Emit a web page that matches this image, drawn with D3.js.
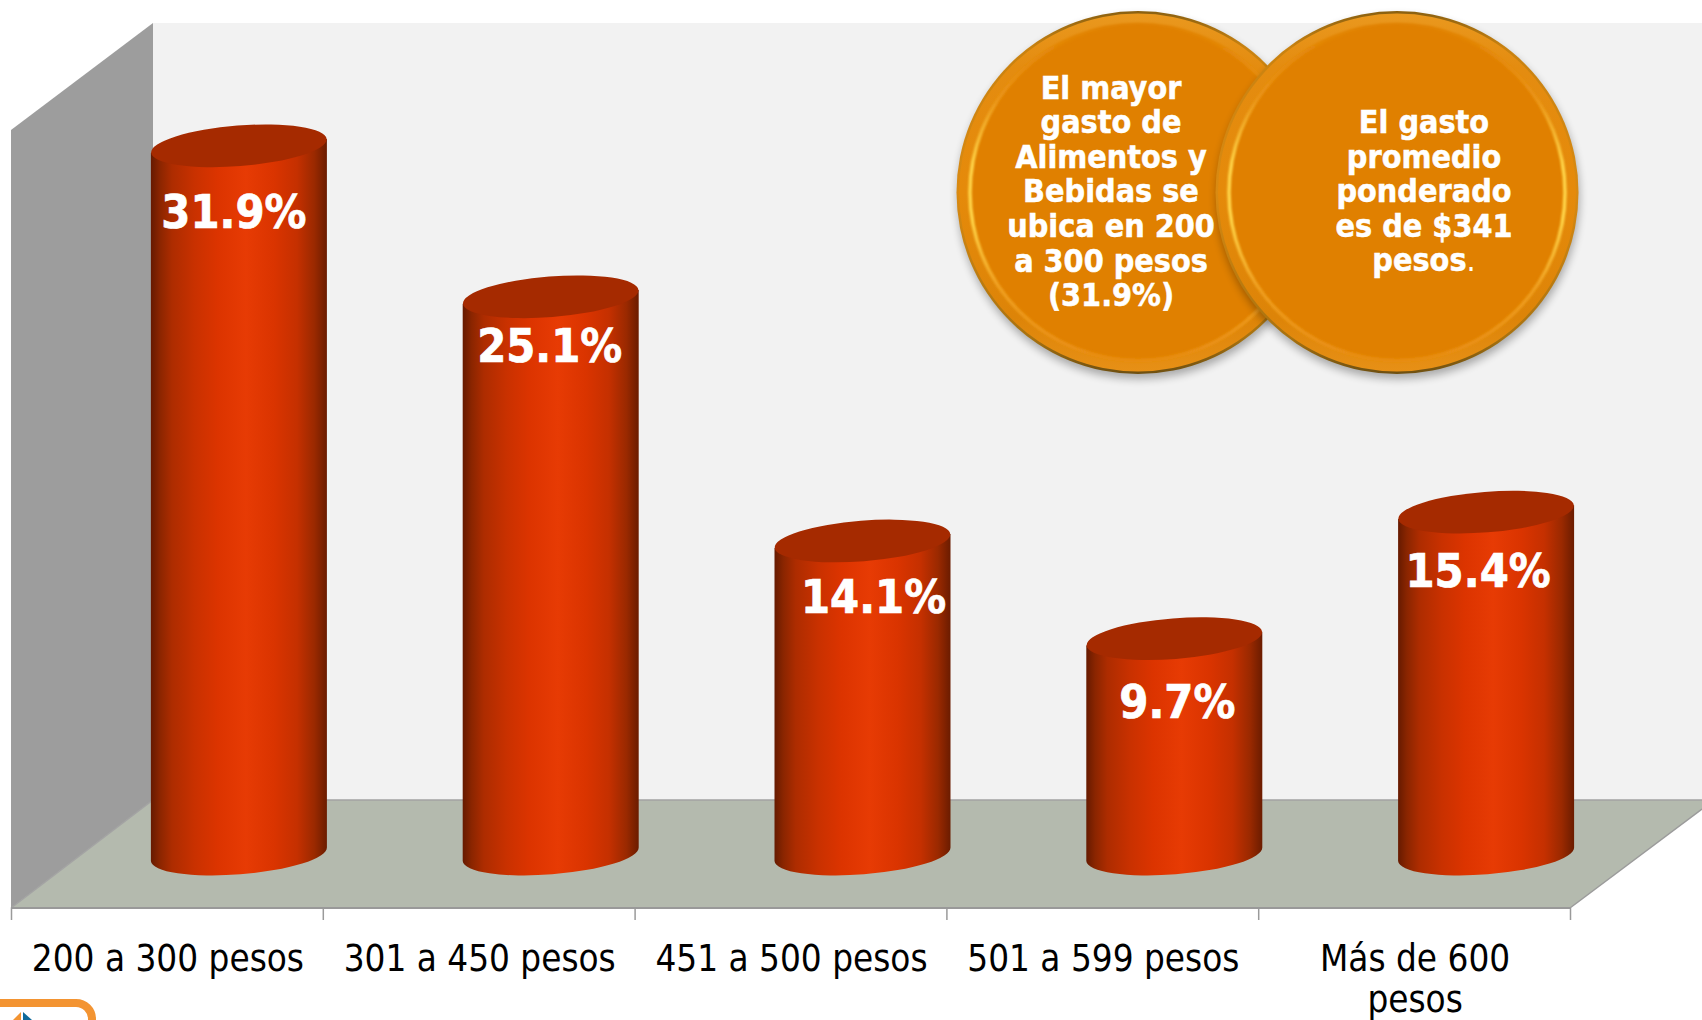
<!DOCTYPE html>
<html><head><meta charset="utf-8">
<script src="https://cdn.jsdelivr.net/npm/d3@7"></script>
<style>
html,body{margin:0;padding:0;background:#fff;overflow:hidden}
svg{display:block}
text{font-family:"DejaVu Sans",sans-serif;font-stretch:condensed}
</style></head><body>
<script>
const categories=["200 a 300 pesos","301 a 450 pesos","451 a 500 pesos","501 a 599 pesos","Más de 600 pesos"];
const categoryLines=[["200 a 300 pesos"],["301 a 450 pesos"],["451 a 500 pesos"],["501 a 599 pesos"],["Más de 600","pesos"]];
const values=[31.9,25.1,14.1,9.7,15.4];
const valueLabels=["31.9%","25.1%","14.1%","9.7%","15.4%"];
const labelDx=[-5,-1,11,3,-8];
const labelDy=[65,48,55,63,58];
const noteLeft=["El mayor","gasto de","Alimentos y","Bebidas se","ubica en 200","a 300 pesos","(31.9%)"];
const noteRight=["El gasto","promedio","ponderado","es de $341","pesos"];

const W=1702,H=1020;
const plot={left:11,right:1570,front:908,back:800,top:23,depthX:142,sideTop:130,farRight:1702,farRightY:809};
const svg=d3.select("body").append("svg").attr("width",W).attr("height",H);
const defs=svg.append("defs");

function grad(id,stops,attrs){
  const g=defs.append("linearGradient").attr("id",id);
  Object.entries(attrs||{}).forEach(([k,v])=>g.attr(k,v));
  stops.forEach(([o,c])=>g.append("stop").attr("offset",o).attr("stop-color",c));
}
grad("cyl",[[0,"#661a00"],[.05,"#8a2500"],[.12,"#ad2c00"],[.25,"#c93100"],[.38,"#dc3400"],[.54,"#e73b04"],[.7,"#da3400"],[.83,"#c53000"],[.93,"#9a2900"],[1,"#6b1c00"]]);
grad("rim",[[0,"#8a6010"],[.1,"#c98210"],[.5,"#d98a12"],[.9,"#a8720f"],[1,"#6e4f10"]],{x1:0,y1:0,x2:0,y2:1});
grad("band",[[0,"#ea981e"],[.15,"#e48c10"],[.5,"#e58a0a"],[.85,"#dd8408"],[1,"#e79016"]],{x1:0,y1:0,x2:0,y2:1});
grad("glow",[[0,"#e08000"],[.22,"#ea9416"],[.42,"#ffd548"],[.58,"#ffd548"],[.78,"#f0a020"],[1,"#e88c10"]],{x1:0,y1:0,x2:0,y2:1});
const sh=defs.append("filter").attr("id","shadow").attr("x","-20%").attr("y","-20%").attr("width","140%").attr("height","140%");
sh.append("feGaussianBlur").attr("stdDeviation",4);
const soft=defs.append("filter").attr("id","soft").attr("x","-10%").attr("y","-10%").attr("width","120%").attr("height","120%");
soft.append("feGaussianBlur").attr("stdDeviation",1.3);

const line=d3.line();
// back wall, side wall, floor
svg.append("rect").attr("x",plot.left+plot.depthX).attr("y",plot.top)
  .attr("width",plot.farRight-plot.left-plot.depthX).attr("height",plot.back-plot.top).attr("fill","#f2f2f2");
svg.append("path").attr("d",line([[plot.left,plot.sideTop],[plot.left+plot.depthX,plot.top],[plot.left+plot.depthX,plot.back],[plot.left,plot.front]])+"Z").attr("fill","#9d9d9d");
svg.append("path").attr("d",line([[plot.left,plot.front],[plot.left+plot.depthX,plot.back],[plot.farRight,plot.back],[plot.farRight,plot.farRightY],[plot.right,plot.front]])+"Z").attr("fill","#b4baae");
svg.append("path").attr("d",line([[plot.left,plot.front],[plot.left+plot.depthX,plot.back],[plot.farRight,plot.back]])).attr("fill","none").attr("stroke","#a3a3a3").attr("stroke-width",1.5);
svg.append("path").attr("d",line([[plot.farRight,plot.farRightY],[plot.right,plot.front]])).attr("fill","none").attr("stroke","#9b9b9b").attr("stroke-width",1.5);

// scales
const x=d3.scaleBand().domain(categories).range([plot.left,plot.right]);
const xEdges=d3.scaleLinear().domain([0,categories.length]).range([plot.left,plot.right]);
const y=d3.scaleLinear().domain([0,35]).range([854,77]);

// category axis (ticks at band edges)
const axisG=svg.append("g").attr("transform",`translate(0,${plot.front})`)
  .call(d3.axisBottom(xEdges).ticks(categories.length).tickSize(12).tickFormat(""));
axisG.select(".domain").attr("stroke","#999").attr("stroke-width",2).attr("d",`M${plot.left},0H${plot.right}`);
axisG.selectAll(".tick line").attr("stroke","#9a9a9a").attr("stroke-width",1.5);

// cylinders
const barOffset=72,rx=88,ry=20.3,tilt=-4.5;
const dy=rx*Math.sin(-tilt*Math.PI/180);
const bars=svg.append("g").selectAll("g").data(categories).join("g");
bars.append("path")
  .attr("fill","url(#cyl)")
  .attr("d",(c,i)=>{
    const cx=x(c)+x.bandwidth()/2+barOffset, t=y(values[i]), b=y(0);
    return `M${cx-rx},${t+dy}L${cx+rx},${t-dy}L${cx+rx},${b-dy}A${rx},${ry} ${tilt} 0 1 ${cx-rx},${b+dy}Z`;
  });
bars.append("ellipse")
  .attr("rx",rx).attr("ry",ry).attr("fill","#a52a00")
  .attr("transform",(c,i)=>`translate(${x(c)+x.bandwidth()/2+barOffset},${y(values[i])}) rotate(${tilt})`);
bars.append("text")
  .attr("x",(c,i)=>x(c)+x.bandwidth()/2+barOffset+labelDx[i])
  .attr("y",(c,i)=>y(values[i])+labelDy[i])
  .attr("dy","0.36em").attr("text-anchor","middle")
  .attr("font-size",46.5).attr("font-weight","bold").attr("fill","#fff")
  .attr("stroke","#fff").attr("stroke-width",.7)
  .text((c,i)=>valueLabels[i]);

// category labels
const catG=svg.append("g").selectAll("text").data(categories).join("text")
  .attr("text-anchor","middle").attr("font-size",36.5).attr("fill","#000");
catG.each(function(c,i){
  d3.select(this).selectAll("tspan").data(categoryLines[i]).join("tspan")
    .attr("x",x(c)+x.bandwidth()/2+1)
    .attr("y",(d,j)=>971+j*40.5)
    .text(d=>d);
});

// medallions
function medallion(cx,cy,r,lines,tx,firstY,lh,period){
  const g=svg.append("g");
  g.append("circle").attr("cx",cx+1).attr("cy",cy+5).attr("r",r).attr("fill","#000").attr("opacity",.3).attr("filter","url(#shadow)");
  g.append("circle").attr("cx",cx).attr("cy",cy).attr("r",r).attr("fill","url(#rim)");
  g.append("circle").attr("cx",cx).attr("cy",cy).attr("r",r-2.5).attr("fill","url(#band)");
  g.append("circle").attr("cx",cx).attr("cy",cy).attr("r",r-14).attr("fill","#e08000");
  g.append("circle").attr("cx",cx).attr("cy",cy).attr("r",r-13.5).attr("fill","none").attr("stroke","url(#glow)").attr("stroke-width",3.5).attr("filter","url(#soft)");
  const t=g.append("text").attr("text-anchor","middle").attr("font-size",32).attr("font-weight","bold").attr("fill","#fff")
    .attr("stroke","#fff").attr("stroke-width",.5);
  lines.forEach((l,i)=>{
    const s=t.append("tspan").attr("x",tx).attr("y",firstY+i*lh).text(l);
    if(period && i===lines.length-1) t.append("tspan").attr("font-weight","normal").attr("stroke","none").text(".");
  });
}
medallion(1138,192.5,181.5,noteLeft,1111,98.5,34.6,false);
medallion(1397,192.5,181.5,noteRight,1424,133,34.6,true);

// logo fragment
svg.append("rect").attr("x",-30).attr("y",1003).attr("width",122).attr("height",60).attr("rx",16)
  .attr("fill","#fff").attr("stroke","#f39432").attr("stroke-width",8);
svg.append("path").attr("d",line([[13,1020],[21,1012],[21,1020]])+"Z").attr("fill","#f39432");
svg.append("path").attr("d",line([[23,1012],[32,1020],[23,1020]])+"Z").attr("fill","#0f6a9b");
</script>
</body></html>
